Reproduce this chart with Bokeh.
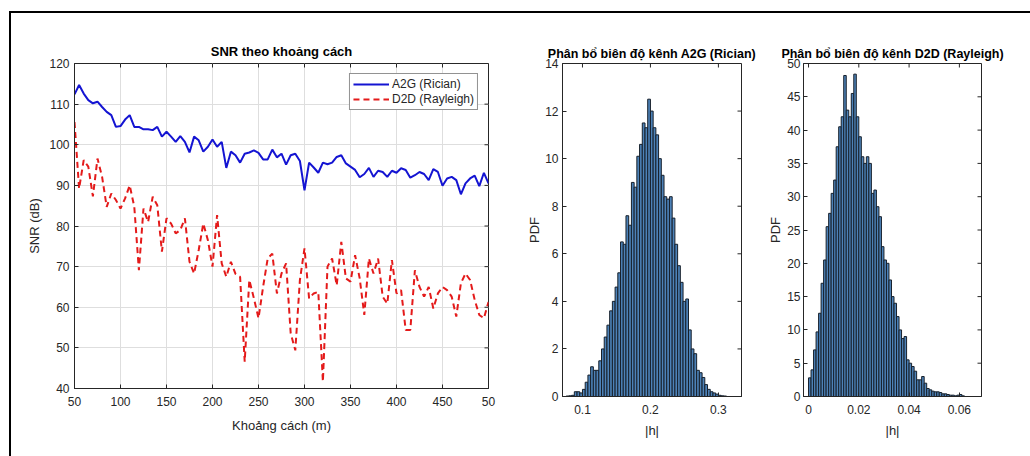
import math
from bokeh.plotting import figure
from bokeh.models import FixedTicker, Range1d, Legend, LegendItem, Div
from bokeh.layouts import row, column
from bokeh.embed import file_html
from bokeh.resources import INLINE

# ---------------- data ----------------
distance_m = list(range(50, 505, 5))
snr_a2g = [112.4, 114.7, 112.6, 111.0, 110.2, 110.6, 109.3, 108.1, 107.3, 104.4,
           104.6, 106.2, 107.3, 104.4, 104.4, 103.8, 103.8, 103.6, 104.4, 102.0,
           103.2, 102.0, 100.7, 102.1, 100.7, 98.1, 102.0, 101.1, 98.3, 99.5,
           101.3, 99.5, 100.7, 94.3, 98.3, 97.4, 95.6, 97.8, 98.1, 98.6,
           98.0, 96.4, 96.4, 98.8, 96.9, 97.8, 95.1, 97.4, 97.8, 96.0,
           88.8, 95.6, 94.4, 93.1, 95.6, 95.2, 95.6, 97.0, 97.4, 95.4,
           94.6, 93.8, 92.0, 92.8, 94.3, 92.1, 93.6, 93.3, 92.1, 93.6,
           93.1, 94.2, 93.8, 91.9, 92.5, 93.3, 92.8, 91.3, 94.0, 93.3,
           89.9, 91.7, 92.1, 91.3, 87.8, 90.5, 91.7, 92.4, 89.8, 93.1, 90.5]
snr_d2d = [105.6, 89.2, 96.2, 94.6, 87.3, 96.6, 92.1, 84.7, 88.0, 86.4,
           84.3, 86.8, 90.0, 84.7, 69.1, 84.3, 81.0, 87.2, 85.1, 73.7,
           81.9, 80.6, 78.2, 79.0, 81.9, 71.2, 68.3, 74.1, 80.6, 76.5,
           70.0, 82.7, 70.8, 67.5, 71.2, 68.2, 67.5, 46.6, 66.7, 62.2,
           57.3, 65.0, 72.0, 73.2, 63.4, 68.3, 70.8, 53.6, 49.4, 66.7,
           74.5, 62.2, 63.4, 63.8, 41.7, 70.0, 72.0, 65.4, 76.1, 67.1,
           66.3, 72.8, 67.1, 58.1, 72.0, 68.3, 72.0, 62.6, 60.9, 71.6,
           63.4, 64.2, 54.4, 54.4, 69.1, 65.0, 62.6, 65.0, 59.7, 63.4,
           65.0, 64.2, 62.6, 57.7, 65.9, 68.3, 66.7, 61.8, 58.1, 57.3, 61.3]

a2g_bin_start = 0.076
a2g_bin_width = 0.004
a2g_pdf = [0.02, 0.03, 0.05, 0.2, 0.2, 0.15, 0.3, 0.6, 0.9,
           1.25, 1.1, 1.1, 1.5, 2.0, 2.5, 3.0, 3.6, 4.0, 4.6,
           5.2, 6.5, 6.4, 7.6, 7.2, 9.0, 8.8, 10.1, 10.6, 11.5,
           11.3, 12.5, 12.0, 11.3, 11.0, 10.0, 9.3, 8.4, 8.3, 8.4,
           7.5, 6.4, 5.5, 4.8, 4.0, 4.1, 2.8, 2.0, 1.8, 1.1,
           1.0, 0.8, 0.5, 0.3, 0.2, 0.15, 0.1, 0.05, 0.03, 0.02,
           0.0, 0.0, 0.0, 0.0, 0.0, 0.0, 0.03]

d2d_bin_start = 0.0
d2d_bin_width = 0.001
d2d_pdf = [2.8, 4.0, 7.0, 9.7, 12.5, 17.0, 20.5, 25.5, 27.5, 30.5,
           32.5, 37.5, 40.5, 42.0, 48.2, 43.0, 42.0, 45.5, 48.4, 42.0,
           39.0, 36.0, 35.0, 36.0, 35.0, 30.5, 31.0, 28.5, 27.0, 22.5,
           20.5, 20.0, 17.5, 15.0, 14.0, 12.0, 10.0, 8.7, 9.0, 5.5,
           5.0, 4.5, 3.8, 2.5, 2.5, 3.0, 2.0, 1.2, 1.0, 0.8,
           0.7, 0.7, 0.6, 0.4, 0.4, 0.3, 0.2, 0.2, 0.1, 0.2, 0.3, 0.1]

snr_xticks = [50, 100, 150, 200, 250, 300, 350, 400, 450, 500]
snr_xtick_labels = {500: "50", "500": "50"}
snr_yticks = [40, 50, 60, 70, 80, 90, 100, 110, 120]
a2g_xticks = [0.1, 0.2, 0.3]
a2g_yticks = [0, 2, 4, 6, 8, 10, 12, 14]
d2d_xticks = [0, 0.02, 0.04, 0.06]
d2d_yticks = [0, 5, 10, 15, 20, 25, 30, 35, 40, 45, 50]

FONT = "Liberation Sans"
AX = "#262626"


def style(p, xticks, yticks, grid):
    p.title.text_font = FONT
    p.title.text_font_style = "bold"
    p.title.text_color = "#000000"
    p.title.align = "center"
    p.outline_line_color = AX
    p.outline_line_width = 1
    p.background_fill_color = "white"
    p.border_fill_color = "white"
    for ax in (p.xaxis[0], p.yaxis[0]):
        ax.axis_line_color = AX
        ax.major_tick_line_color = AX
        ax.major_tick_in = 4
        ax.major_tick_out = 0
        ax.minor_tick_line_color = None
        ax.major_label_text_font = FONT
        ax.major_label_text_font_size = "12px"
        ax.major_label_text_color = AX
        ax.axis_label_text_font = FONT
        ax.axis_label_text_font_size = "13px"
        ax.axis_label_text_font_style = "normal"
        ax.axis_label_text_color = AX
    p.xaxis[0].major_label_standoff = 8
    p.xaxis[0].axis_label_standoff = 6
    p.yaxis[0].major_label_standoff = 5
    p.yaxis[0].axis_label_standoff = 4
    p.xaxis[0].ticker = FixedTicker(ticks=xticks)
    p.yaxis[0].ticker = FixedTicker(ticks=yticks)
    # tick marks on the right and top edges (box on)
    xr, yr = p.x_range, p.y_range
    p.ray(x=[xr.end] * len(yticks), y=yticks, length=4, length_units="screen",
          angle=math.pi, line_color=AX, line_width=1)
    p.ray(x=xticks, y=[yr.end] * len(xticks), length=4, length_units="screen",
          angle=-math.pi / 2, line_color=AX, line_width=1)
    if grid:
        p.xgrid.ticker = FixedTicker(ticks=xticks)
        p.ygrid.ticker = FixedTicker(ticks=yticks)
        p.grid.grid_line_color = "#dedede"
        p.grid.grid_line_width = 1
    else:
        p.grid.grid_line_color = None


# ---------------- SNR vs distance ----------------
p1 = figure(frame_width=414, frame_height=325, output_backend="svg", toolbar_location=None,
            x_range=Range1d(50, 500), y_range=Range1d(40, 120),
            title="SNR theo khoảng cách",
            x_axis_label="Khoảng cách (m)", y_axis_label="SNR (dB)",
            min_border_left=74, min_border_right=32, min_border_top=63, min_border_bottom=60)
p1.title.text_font_size = "13px"
style(p1, snr_xticks, snr_yticks, True)
p1.xaxis[0].axis_label_standoff = 9
p1.xaxis[0].major_label_overrides = snr_xtick_labels
r_a2g = p1.line(distance_m, snr_a2g, line_color="#1414d2", line_width=2)
r_d2d = p1.line(distance_m, snr_d2d, line_color="#e41a1a", line_width=2, line_dash="6 4")
leg = Legend(items=[LegendItem(label="A2G (Rician)", renderers=[r_a2g]),
                    LegendItem(label="D2D (Rayleigh)", renderers=[r_d2d])],
             location="top_right")
leg.label_text_font = FONT
leg.label_text_font_size = "12px"
leg.label_text_color = AX
leg.glyph_width = 36
leg.glyph_height = 14
leg.label_height = 14
leg.label_standoff = 3
leg.spacing = 1
leg.padding = 3
leg.margin = 10
leg.border_line_color = AX
leg.border_line_width = 1
leg.background_fill_alpha = 1
p1.add_layout(leg)

# ---------------- A2G histogram ----------------
a2g_left = [a2g_bin_start + i * a2g_bin_width for i in range(len(a2g_pdf))]
a2g_right = [v + a2g_bin_width for v in a2g_left]
p2 = figure(frame_width=179, frame_height=333, output_backend="svg", toolbar_location=None,
            x_range=Range1d(0.0706, 0.334), y_range=Range1d(0, 14),
            title="Phân bổ biên độ kênh A2G (Rician)",
            x_axis_label="|h|", y_axis_label="PDF",
            min_border_left=42, min_border_right=21, min_border_top=59, min_border_bottom=56)
p2.title.text_font_size = "12.5px"
p2.title.standoff = 5
style(p2, a2g_xticks, a2g_yticks, False)
p2.yaxis[0].major_label_standoff = 4
p2.yaxis[0].axis_label_standoff = 0
p2.quad(left=a2g_left, right=a2g_right, bottom=0, top=a2g_pdf,
        fill_color="#4d82b8", line_color="#17202b", line_width=1)

# ---------------- D2D histogram ----------------
d2d_left = [d2d_bin_start + i * d2d_bin_width for i in range(len(d2d_pdf))]
d2d_right = [v + d2d_bin_width for v in d2d_left]
p3 = figure(frame_width=178, frame_height=333, output_backend="svg", toolbar_location=None,
            x_range=Range1d(-0.002, 0.0688), y_range=Range1d(0, 50),
            title="Phân bổ biên độ kênh D2D (Rayleigh)",
            x_axis_label="|h|", y_axis_label="PDF",
            min_border_left=41, min_border_right=30, min_border_top=59, min_border_bottom=56)
p3.title.text_font_size = "12.5px"
p3.title.standoff = 5
style(p3, d2d_xticks, d2d_yticks, False)
p3.yaxis[0].major_label_standoff = 3
p3.yaxis[0].axis_label_standoff = 1
p3.quad(left=d2d_left, right=d2d_right, bottom=0, top=d2d_pdf,
        fill_color="#4d82b8", line_color="#17202b", line_width=1)

top_line = Div(text="", width=10, height=1,
               styles={"position": "fixed", "left": "4px", "top": "6px",
                       "width": "1026px", "height": "2px", "background-color": "black"})
left_line = Div(text="", width=1, height=10,
                styles={"position": "fixed", "left": "4px", "top": "6px",
                        "width": "2px", "height": "450px", "background-color": "black"})

layout = column(row(p1, p2, p3), top_line, left_line)

open("out.html", "w").write(file_html(layout, INLINE))
